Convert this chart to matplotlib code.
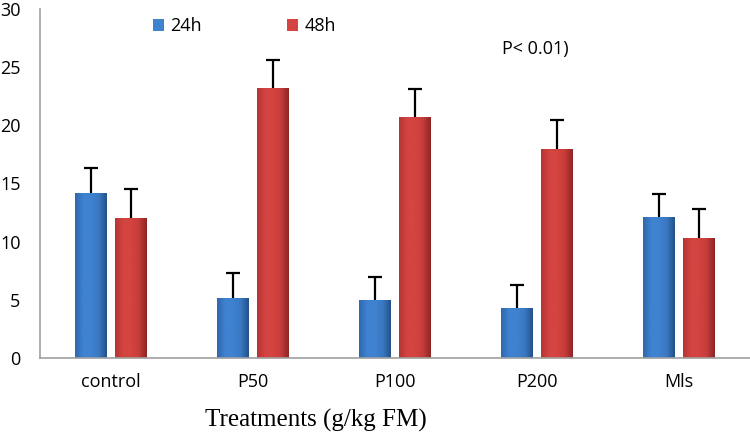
import numpy as np
import matplotlib.pyplot as plt
from matplotlib.colors import LinearSegmentedColormap

# data
treatments = ['control', 'P50', 'P100', 'P200', 'Mls']
h24 = [14.2, 5.2, 5.0, 4.3, 12.1]
h24_err = [2.1, 2.1, 2.0, 2.0, 2.0]
h48 = [12.0, 23.2, 20.7, 18.0, 10.3]
h48_err = [2.5, 2.4, 2.4, 2.5, 2.5]

plt.rcParams['font.family'] = ['Open Sans', 'DejaVu Sans']

fig = plt.figure(figsize=(7.5, 4.34), dpi=100)
ax = fig.add_axes([40/750, 1-358/434, 710/750, 349/434])

x = np.arange(len(treatments))
w = 0.225
off = 0.143

blue_cm = LinearSegmentedColormap.from_list('b', ['#2f68ad', '#3f82d0', '#3f82d0', '#3a78c2', '#24528a'])
red_cm = LinearSegmentedColormap.from_list('r', ['#b53434', '#d44441', '#d44441', '#c63c3a', '#8e2626'])
grad = np.linspace(0, 1, 64).reshape(1, -1)


def shaded_bars(pos, vals, cm, face, label):
    bars = ax.bar(pos, vals, w, color=face, edgecolor='none', label=label, zorder=2)
    for b in bars:
        x0, y0 = b.get_x(), b.get_y()
        im = ax.imshow(grad, cmap=cm, aspect='auto', zorder=2.1,
                       extent=[x0, x0 + b.get_width(), y0, y0 + b.get_height()])
        im.set_clip_path(b)
    return bars


shaded_bars(x - off, h24, blue_cm, '#3f82d0', '24h')
shaded_bars(x + off, h48, red_cm, '#d44441', '48h')

# upper error bars only
for pos, vals, errs in [(x - off, h24, h24_err), (x + off, h48, h48_err)]:
    tops = np.array(vals) + np.array(errs)
    ax.vlines(pos, vals, tops, color='black', linewidth=1.6, zorder=3)
    ax.plot(pos, tops, linestyle='none', marker='_', markersize=10,
            markeredgewidth=1.6, color='black', zorder=3)

ax.set_xlim(-0.5, 4.5)
ax.set_ylim(0, 30)
ax.set_yticks(range(0, 31, 5))
ax.set_xticks(x)
ax.set_xticklabels(treatments)
ax.tick_params(axis='both', length=0, labelsize=13)
ax.tick_params(axis='x', pad=11)
ax.tick_params(axis='y', pad=14)
ax.spines['top'].set_visible(False)
ax.spines['right'].set_visible(False)
for s in ['left', 'bottom']:
    ax.spines[s].set_color('#a0a0a0')
    ax.spines[s].set_linewidth(1.2)

ax.legend(loc='upper left', bbox_to_anchor=(0.159, 0.976), ncol=2, frameon=False,
          fontsize=13, handlelength=0.62, handleheight=0.62, columnspacing=4.7,
          handletextpad=0.35, borderpad=0, borderaxespad=0)

fig.text(535/750, 1-49/434, 'P< 0.01)', fontsize=13, ha='center', va='center')
fig.text(316/750, 1-427/434, 'Treatments (g/kg FM)', fontsize=18,
         family='Liberation Serif', ha='center', va='baseline')

fig.savefig('out.png', dpi=100)
